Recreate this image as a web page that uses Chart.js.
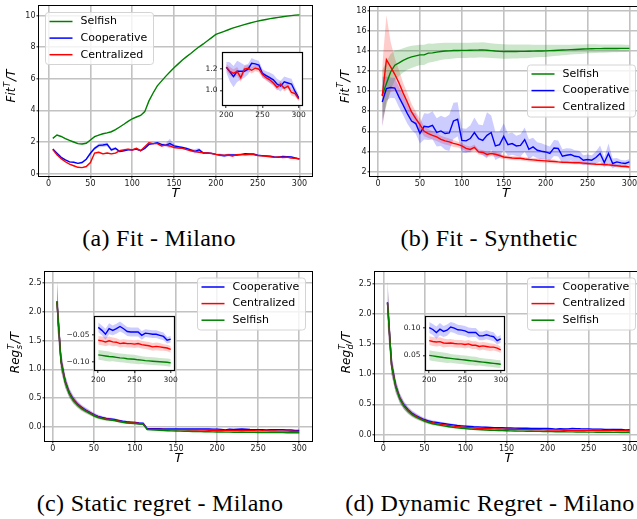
<!DOCTYPE html>
<html>
<head>
<meta charset="utf-8">
<script src="https://cdn.jsdelivr.net/npm/chart.js@4.4.1/dist/chart.umd.min.js"></script>
<style>
  html, body { margin: 0; padding: 0; background: #fff; width: 637px; height: 519px; overflow: hidden; }
  canvas { position: absolute; }
  .cap { position: absolute; font-family: "Liberation Serif", serif; font-size: 24px; letter-spacing: 0.3px; color: #000;
         white-space: nowrap; transform: translate(-50%, -50%); }
</style>
</head>
<body>
<canvas id="fitMilano"></canvas>
<canvas id="fitSynth"></canvas>
<canvas id="regStatic"></canvas>
<canvas id="regDynamic"></canvas>
<canvas id="fitMilanoInset"></canvas>
<canvas id="regStaticInset"></canvas>
<canvas id="regDynamicInset"></canvas>
<div class="cap" style="left:159px;top:238px">(a) Fit - Milano</div>
<div class="cap" style="left:489px;top:238px">(b) Fit - Synthetic</div>
<div class="cap" style="left:160px;top:503px">(c) Static regret - Milano</div>
<div class="cap" style="left:490px;top:503px">(d) Dynamic Regret - Milano</div>
<script>
// horizon T
const T = [5,10,15,20,25,30,35,40,45,50,55,60,65,70,75,80,85,90,95,100,
           105,110,115,120,125,130,135,140,145,150,155,160,165,170,175,180,185,190,195,200,
           205,210,215,220,225,230,235,240,245,250,255,260,265,270,275,280,285,290,295,300];

// (a) Fit - Milano
const fitMilanoSelfish = [2.23,2.44,2.35,2.22,2.10,2.00,1.90,1.87,1.92,2.13, 2.34,2.44,2.52,2.58,2.65,2.78,2.95,3.12,3.30,3.47,
  3.58,3.68,3.92,4.60,5.10,5.55,5.85,6.15,6.42,6.69, 6.94,7.18,7.40,7.60,7.82,8.02,8.20,8.40,8.60,8.80,
  8.90,9.00,9.10,9.20,9.28,9.36,9.44,9.51,9.58,9.64, 9.70,9.75,9.80,9.84,9.88,9.92,9.96,9.99,10.02,10.04];
const fitMilanoSelfishSd = [0.03,0.03,0.03,0.03,0.03,0.03,0.03,0.03,0.03,0.03, 0.03,0.03,0.03,0.03,0.03,0.03,0.03,0.03,0.03,0.03,
  0.03,0.03,0.04,0.04,0.04,0.03,0.03,0.03,0.03,0.03, 0.02,0.02,0.02,0.02,0.02,0.02,0.02,0.02,0.02,0.02,
  0.02,0.02,0.02,0.02,0.02,0.02,0.02,0.02,0.02,0.02, 0.02,0.02,0.02,0.02,0.02,0.02,0.02,0.02,0.02,0.02];
const fitMilanoCoop = [1.56,1.29,1.03,0.87,0.74,0.72,0.65,0.70,0.91,1.29, 1.60,1.79,1.81,1.85,1.50,1.60,1.40,1.45,1.50,1.50,
  1.55,1.45,1.60,1.85,1.90,1.95,1.85,1.80,1.90,1.75, 1.70,1.65,1.60,1.50,1.40,1.50,1.30,1.30,1.28,1.22,
  1.175,1.13,1.18,1.18,1.18,1.20,1.255,1.25,1.24,1.16, 1.14,1.12,1.10,1.06,1.04,1.08,1.07,1.06,0.99,0.93];
const fitMilanoCoopSd = [0.04,0.04,0.04,0.04,0.04,0.04,0.04,0.05,0.06,0.08, 0.10,0.12,0.12,0.12,0.10,0.08,0.06,0.05,0.06,0.05,
  0.05,0.05,0.06,0.06,0.06,0.06,0.07,0.10,0.30,0.10, 0.06,0.06,0.06,0.08,0.15,0.12,0.06,0.05,0.05,0.05,
  0.09,0.10,0.10,0.08,0.06,0.05,0.05,0.04,0.04,0.04, 0.04,0.05,0.05,0.05,0.05,0.05,0.05,0.05,0.04,0.03];
const fitMilanoCentral = [1.52,1.20,0.95,0.75,0.60,0.50,0.40,0.38,0.45,0.70, 1.30,1.35,1.25,1.30,1.25,1.30,1.45,1.50,1.55,1.50,
  1.60,1.45,1.70,1.95,1.90,1.90,1.75,1.80,1.75,1.65, 1.62,1.60,1.52,1.45,1.40,1.35,1.32,1.30,1.27,1.22,
  1.18,1.16,1.18,1.12,1.20,1.21,1.19,1.21,1.20,1.15, 1.12,1.10,1.07,1.03,1.06,1.02,1.04,0.98,0.97,0.92];
const fitMilanoCentralSd = [0.03,0.03,0.03,0.03,0.03,0.03,0.03,0.03,0.04,0.05, 0.06,0.06,0.06,0.05,0.05,0.05,0.06,0.07,0.06,0.05,
  0.05,0.04,0.04,0.04,0.04,0.04,0.04,0.04,0.04,0.04, 0.04,0.04,0.04,0.04,0.04,0.04,0.04,0.04,0.03,0.03,
  0.04,0.04,0.04,0.04,0.03,0.03,0.03,0.03,0.03,0.03, 0.03,0.03,0.03,0.03,0.03,0.03,0.03,0.03,0.03,0.02];

// (b) Fit - Synthetic
const fitSynthSelfish = [9.6,10.75,11.9,12.57,12.8,13.06,13.26,13.4,13.5,13.6, 13.6,13.78,13.8,13.88,13.94,13.98,14.0,14.03,14.04,14.05,
  14.05,14.06,14.07,14.08,14.1,14.06,14.02,13.98,13.95,13.93, 13.93,13.93,13.94,13.95,13.95,13.96,13.97,13.98,13.99,14.0,
  14.02,14.04,14.06,14.08,14.1,14.12,14.14,14.16,14.18,14.2, 14.21,14.22,14.22,14.23,14.23,14.24,14.24,14.25,14.25,14.25];
const fitSynthSelfishSd = [2.5,2.2,1.8,1.5,1.3,1.2,1.15,1.1,1.05,1.0, 1.0,0.95,0.9,0.88,0.85,0.82,0.8,0.78,0.76,0.75,
  0.75,0.75,0.75,0.75,0.75,0.74,0.73,0.72,0.72,0.72, 0.71,0.7,0.69,0.68,0.68,0.66,0.64,0.62,0.61,0.6,
  0.58,0.56,0.54,0.52,0.5,0.49,0.48,0.47,0.46,0.45, 0.44,0.43,0.42,0.41,0.4,0.39,0.38,0.37,0.36,0.35];
const fitSynthCoop = [8.92,10.25,10.35,10.3,9.4,8.6,7.76,7.03,6.77,5.8, 6.5,6.44,6.6,5.9,6.04,5.78,5.84,7.03,7.2,5.1,
  5.05,5.28,5.88,5.28,5.1,5.6,5.88,4.55,4.68,5.5, 4.68,4.78,4.55,4.6,5.18,4.22,4.45,4.12,4.02,3.95,
  3.8,4.35,4.3,3.52,3.62,3.69,3.52,3.46,3.13,3.2, 3.13,3.4,3.8,2.9,3.8,2.8,2.96,2.86,2.8,2.96];
const fitSynthCoopSd = [2.5,1.2,1.0,1.0,1.0,1.0,1.0,0.9,1.0,1.0, 1.3,1.3,1.4,1.4,1.5,1.6,1.8,1.8,1.7,1.2,
  1.2,1.3,1.5,1.4,1.5,2.3,1.7,1.4,1.3,1.3, 1.1,1.1,1.0,1.1,1.2,1.0,0.9,0.8,0.8,0.7,
  0.7,0.8,0.8,0.7,0.7,0.6,0.6,0.6,0.5,0.5, 0.5,0.6,0.8,0.5,1.0,0.5,0.4,0.3,0.3,0.3];
const fitSynthCentral = [9.5,13.13,12.4,11.67,10.8,9.8,8.9,7.93,7.27,6.67, 6.0,5.78,5.6,5.45,5.2,5.05,4.95,4.8,4.7,4.55,
  4.3,4.2,4.4,3.95,3.9,3.7,3.8,3.72,3.6,3.45, 3.4,3.35,3.33,3.32,3.25,3.2,3.16,3.12,3.09,3.06,
  3.03,3.0,2.96,2.93,2.91,2.9,2.88,2.87,2.84,2.8, 2.77,2.73,2.72,2.7,2.67,2.63,2.58,2.53,2.5,2.46];
const fitSynthCentralSd = [3.0,4.4,2.5,1.6,1.3,1.0,0.9,0.8,0.7,0.6, 0.5,0.45,0.4,0.4,0.35,0.35,0.35,0.35,0.3,0.3,
  0.3,0.3,0.3,0.25,0.25,0.25,0.25,0.25,0.25,0.2, 0.2,0.2,0.2,0.2,0.2,0.2,0.2,0.2,0.2,0.2,
  0.2,0.2,0.15,0.15,0.15,0.15,0.15,0.15,0.15,0.15, 0.15,0.15,0.15,0.15,0.15,0.15,0.15,0.15,0.15,0.15];

// (c) Static regret - Milano
const regStaticCoop = [2.18,1.15,0.80,0.60,0.48,0.40,0.34,0.295,0.255,0.215, 0.185,0.165,0.15,0.14,0.13,0.115,0.10,0.09,0.085,0.08,
  0.07,0.065,-0.03,-0.03,-0.031,-0.031,-0.032,-0.032,-0.033,-0.033, -0.034,-0.034,-0.035,-0.035,-0.035,-0.036,-0.036,-0.036,-0.037,-0.0365,
  -0.042,-0.049,-0.039,-0.042,-0.039,-0.035,-0.039,-0.044,-0.045,-0.045, -0.045,-0.051,-0.047,-0.048,-0.049,-0.049,-0.051,-0.053,-0.06,-0.058];
const regStaticCoopSd = [0.38,0.17,0.11,0.08,0.065,0.055,0.048,0.042,0.038,0.034, 0.03,0.028,0.025,0.023,0.021,0.02,0.019,0.018,0.017,0.016,
  0.015,0.015,0.012,0.011,0.011,0.01,0.01,0.01,0.01,0.01, 0.009,0.009,0.009,0.009,0.009,0.009,0.009,0.009,0.009,0.009,
  0.009,0.01,0.01,0.009,0.009,0.009,0.008,0.008,0.008,0.008, 0.008,0.008,0.007,0.007,0.007,0.007,0.007,0.007,0.006,0.006];
const regStaticCentral = [2.18,1.14,0.79,0.59,0.47,0.39,0.33,0.285,0.245,0.205, 0.175,0.155,0.14,0.13,0.12,0.105,0.09,0.08,0.075,0.07,
  0.06,0.055,-0.04,-0.041,-0.042,-0.043,-0.044,-0.045,-0.046,-0.047, -0.048,-0.05,-0.051,-0.052,-0.053,-0.054,-0.055,-0.057,-0.058,-0.06,
  -0.061,-0.063,-0.061,-0.063,-0.0635,-0.066,-0.065,-0.066,-0.066,-0.067, -0.066,-0.068,-0.069,-0.07,-0.072,-0.071,-0.072,-0.073,-0.074,-0.0765];
const regStaticCentralSd = [0.37,0.16,0.1,0.075,0.06,0.05,0.045,0.04,0.036,0.032, 0.029,0.026,0.024,0.022,0.02,0.019,0.018,0.017,0.016,0.015,
  0.014,0.014,0.011,0.01,0.01,0.009,0.009,0.009,0.009,0.009, 0.008,0.008,0.008,0.008,0.008,0.008,0.008,0.008,0.008,0.008,
  0.008,0.008,0.008,0.008,0.007,0.007,0.007,0.007,0.007,0.007, 0.007,0.007,0.007,0.007,0.007,0.007,0.007,0.006,0.006,0.006];
const regStaticSelfish = [2.18,1.13,0.78,0.58,0.46,0.38,0.32,0.275,0.235,0.195, 0.165,0.145,0.13,0.12,0.11,0.095,0.08,0.07,0.065,0.06,
  0.05,0.045,-0.045,-0.05,-0.054,-0.058,-0.061,-0.064,-0.067,-0.069, -0.071,-0.073,-0.075,-0.077,-0.079,-0.08,-0.082,-0.083,-0.085,-0.0865,
  -0.0875,-0.0885,-0.0895,-0.09,-0.091,-0.092,-0.0925,-0.0935,-0.094,-0.0945, -0.0955,-0.096,-0.097,-0.0975,-0.098,-0.0985,-0.099,-0.0995,-0.1,-0.101];
const regStaticSelfishSd = [0.36,0.16,0.1,0.075,0.06,0.05,0.045,0.04,0.036,0.032, 0.029,0.026,0.024,0.022,0.02,0.019,0.018,0.017,0.016,0.015,
  0.014,0.014,0.012,0.011,0.011,0.01,0.01,0.01,0.01,0.01, 0.01,0.01,0.01,0.01,0.01,0.01,0.009,0.009,0.009,0.009,
  0.009,0.009,0.009,0.008,0.008,0.008,0.008,0.008,0.008,0.008, 0.008,0.007,0.007,0.007,0.007,0.007,0.007,0.007,0.007,0.007];

// (d) Dynamic regret - Milano
const regDynCoop = [2.19,1.16,0.81,0.61,0.49,0.41,0.35,0.31,0.275,0.245, 0.225,0.21,0.2,0.19,0.18,0.17,0.16,0.15,0.145,0.14,
  0.135,0.13,0.127,0.124,0.121,0.118,0.116,0.114,0.112,0.11, 0.108,0.107,0.106,0.105,0.104,0.103,0.102,0.101,0.1005,0.1,
  0.0965,0.091,0.097,0.093,0.0953,0.101,0.099,0.096,0.0953,0.094, 0.091,0.091,0.091,0.085,0.085,0.087,0.085,0.0835,0.0765,0.0795];
const regDynCoopSd = [0.38,0.17,0.11,0.08,0.065,0.055,0.048,0.042,0.038,0.034, 0.03,0.028,0.025,0.023,0.021,0.02,0.019,0.018,0.017,0.016,
  0.015,0.015,0.014,0.013,0.012,0.012,0.011,0.011,0.011,0.01, 0.01,0.01,0.01,0.01,0.01,0.01,0.01,0.01,0.01,0.01,
  0.01,0.011,0.011,0.01,0.01,0.009,0.009,0.009,0.009,0.009, 0.009,0.008,0.008,0.008,0.008,0.008,0.008,0.008,0.007,0.007];
const regDynCentral = [2.18,1.15,0.8,0.6,0.48,0.4,0.34,0.3,0.265,0.235, 0.21,0.195,0.18,0.17,0.16,0.15,0.14,0.132,0.125,0.12,
  0.115,0.11,0.106,0.103,0.1,0.097,0.095,0.093,0.091,0.089, 0.087,0.086,0.084,0.083,0.082,0.081,0.08,0.079,0.078,0.0765,
  0.075,0.074,0.0747,0.0723,0.0718,0.0723,0.0712,0.0706,0.0706,0.0694, 0.0706,0.0682,0.0682,0.0659,0.067,0.0659,0.0647,0.0647,0.063,0.06];
const regDynCentralSd = [0.37,0.16,0.1,0.075,0.06,0.05,0.045,0.04,0.036,0.032, 0.029,0.026,0.024,0.022,0.02,0.019,0.018,0.017,0.016,0.015,
  0.014,0.014,0.013,0.012,0.011,0.011,0.01,0.01,0.01,0.009, 0.009,0.009,0.009,0.009,0.009,0.009,0.008,0.008,0.008,0.008,
  0.008,0.008,0.008,0.008,0.007,0.007,0.007,0.007,0.007,0.007, 0.007,0.007,0.007,0.007,0.007,0.007,0.007,0.006,0.006,0.006];
const regDynSelfish = [2.18,1.14,0.79,0.59,0.47,0.39,0.33,0.29,0.255,0.225, 0.2,0.18,0.165,0.152,0.14,0.13,0.12,0.112,0.105,0.098,
  0.092,0.087,0.083,0.079,0.075,0.072,0.069,0.067,0.065,0.063, 0.061,0.06,0.058,0.057,0.056,0.055,0.054,0.053,0.0515,0.05,
  0.049,0.048,0.047,0.046,0.0453,0.0445,0.0437,0.043,0.0422,0.0415, 0.0408,0.04,0.0393,0.0385,0.0378,0.037,0.0363,0.0355,0.0348,0.034];
const regDynSelfishSd = [0.36,0.16,0.1,0.075,0.06,0.05,0.045,0.04,0.036,0.032, 0.029,0.026,0.024,0.022,0.02,0.019,0.018,0.017,0.016,0.015,
  0.014,0.014,0.013,0.012,0.012,0.011,0.011,0.011,0.01,0.01, 0.01,0.01,0.01,0.01,0.01,0.01,0.01,0.01,0.009,0.009,
  0.009,0.009,0.009,0.009,0.009,0.008,0.008,0.008,0.008,0.008, 0.008,0.008,0.008,0.007,0.007,0.007,0.007,0.007,0.007,0.007];

// ticks
const xTicks = [0,50,100,150,200,250,300];
const xTickLabels = ['0','50','100','150','200','250','300'];
const fitMilanoYTicks = [0,2,4,6,8,10];
const fitMilanoYLabels = ['0','2','4','6','8','10'];
const fitSynthYTicks = [2,4,6,8,10,12,14,16,18];
const fitSynthYLabels = ['2','4','6','8','10','12','14','16','18'];
const regYTicks = [0,0.5,1,1.5,2,2.5];
const regYLabels = ['0.0','0.5','1.0','1.5','2.0','2.5'];
const insetXTicks = [200,250,300];
const insetXLabels = ['200','250','300'];
const insetFitYTicks = [1.0,1.2];
const insetFitYLabels = ['1.0','1.2'];
const insetRegSYTicks = [-0.10,-0.05];
const insetRegSYLabels = ['\u22120.10','\u22120.05'];
const insetRegDYTicks = [0.05,0.10];
const insetRegDYLabels = ['0.05','0.10'];

const COLORS = {
  Selfish:     { line: '#008000', band: 'rgba(0,128,0,0.2)' },
  Cooperative: { line: '#0000ff', band: 'rgba(0,0,255,0.2)' },
  Centralized: { line: '#ff0000', band: 'rgba(255,0,0,0.2)' }
};
const INSET_FROM = T.indexOf(200);

function buildSets(list, from) {
  const out = [];
  list.forEach(([name, mean, sd], k) => {
    const xs = T.slice(from), m = mean.slice(from), s = sd.slice(from);
    const col = COLORS[name];
    out.push({ label: name, data: xs.map((x, i) => ({ x, y: m[i] })), borderColor: col.line,
               borderWidth: 1.4, pointRadius: 0, tension: 0, fill: false, order: list.length - k });
    out.push({ label: '_lo', data: xs.map((x, i) => ({ x, y: m[i] - s[i] })), borderWidth: 0,
               borderColor: 'rgba(0,0,0,0)', pointRadius: 0, fill: false, order: 10 });
    out.push({ label: '_hi', data: xs.map((x, i) => ({ x, y: m[i] + s[i] })), borderWidth: 0,
               borderColor: 'rgba(0,0,0,0)', backgroundColor: col.band, pointRadius: 0, fill: '-1', order: 10 });
  });
  return out;
}

function scale(min, max, ticks, labels, o) {
  return {
    type: 'linear', min: min, max: max,
    afterBuildTicks: ax => { ax.ticks = ticks.map(v => ({ value: v })); },
    afterFit: ax => { if (ax.isHorizontal()) ax.height = o.size; else ax.width = o.size; },
    ticks: { autoSkip: false, maxRotation: 0, padding: o.pad, color: '#1a1a1a',
             font: { family: 'DejaVu Sans', size: o.font }, callback: (v, i) => labels[i] },
    grid: { drawOnChartArea: o.grid, color: '#c2c2c2', lineWidth: 1.6, tickLength: o.tick,
            tickColor: '#222', tickWidth: 1 },
    border: { display: false }
  };
}

const framePlugin = {
  id: 'frame',
  beforeDraw(chart, args, o) {
    if (!o.white) return;
    const a = chart.chartArea, c = chart.ctx;
    c.save(); c.fillStyle = '#fff'; c.fillRect(a.left, a.top, a.right - a.left, a.bottom - a.top); c.restore();
  },
  afterDatasetsDraw(chart, args, o) {
    const a = chart.chartArea, c = chart.ctx;
    c.save(); c.strokeStyle = '#000'; c.lineWidth = o.width || 1;
    c.strokeRect(a.left - 0.5, a.top - 0.5, a.right - a.left + 1, a.bottom - a.top + 1);
    c.restore();
  }
};

const legendPlugin = {
  id: 'mplLegend',
  afterDraw(chart, args, o) {
    if (!o.show) return;
    const a = chart.chartArea, c = chart.ctx;
    const w = 108, h = 52;
    const bx = o.left ? a.left + 6.5 : a.right - 6.5 - w;
    const by = a.top + o.dy;
    c.save();
    c.beginPath(); c.roundRect(bx, by, w, h, 3);
    c.fillStyle = 'rgba(255,255,255,0.8)'; c.fill();
    c.strokeStyle = '#d4d4d4'; c.lineWidth = 1; c.stroke();
    const items = chart.data.datasets.filter(d => !d.label.startsWith('_'));
    c.font = '11px "DejaVu Sans"'; c.textBaseline = 'middle';
    items.forEach((d, i) => {
      const y = by + 9 + i * 16.6;
      c.strokeStyle = d.borderColor; c.lineWidth = 1.5;
      c.beginPath(); c.moveTo(bx + 4, y); c.lineTo(bx + 27, y); c.stroke();
      c.fillStyle = '#000'; c.fillText(d.label, bx + 35, y);
    });
    c.restore();
  }
};

function drawRich(c, parts, size) {
  const big = 'italic ' + size + 'px "DejaVu Sans"';
  const small = 'italic ' + (size * 0.7).toFixed(1) + 'px "DejaVu Sans"';
  const widths = parts.map(p => {
    if (p.sup) { c.font = small; return Math.max(c.measureText(p.sup).width, p.sub ? c.measureText(p.sub).width : 0) + 1.5; }
    c.font = big; return c.measureText(p.t).width;
  });
  const total = widths.reduce((s, w) => s + w, 0);
  const base = size * 0.35;
  let x = -total / 2;
  parts.forEach((p, i) => {
    if (p.sup) {
      c.font = small;
      c.fillText(p.sup, x + 0.5, base - size * 0.45);
      if (p.sub) c.fillText(p.sub, x + 0.5, base + size * 0.22);
    } else { c.font = big; c.fillText(p.t, x, base); }
    x += widths[i];
  });
}

const titlePlugin = {
  id: 'axisTitles',
  afterDraw(chart, args, o) {
    const a = chart.chartArea, c = chart.ctx;
    c.save();
    c.fillStyle = '#000';
    c.font = 'italic 13px "DejaVu Sans"'; c.textAlign = 'center'; c.textBaseline = 'middle';
    c.fillText('T', (a.left + a.right) / 2, a.bottom + o.xOff);
    c.translate(a.left + o.yOff, (a.top + a.bottom) / 2 + o.yShift);
    c.rotate(-Math.PI / 2);
    c.textAlign = 'left'; c.textBaseline = 'alphabetic';
    drawRich(c, o.parts, 12);
    c.restore();
  }
};

function place(id, rect, pad) {
  const cv = document.getElementById(id);
  const w = rect.r - rect.l + pad.l + pad.r, h = rect.b - rect.t + pad.t + pad.b;
  cv.width = w; cv.height = h;
  cv.style.left = (rect.l - pad.l) + 'px'; cv.style.top = (rect.t - pad.t) + 'px';
  cv.style.width = w + 'px'; cv.style.height = h + 'px';
  return cv;
}

function makeChart(id, rect, pad, sets, xs, ys, pl) {
  const cv = place(id, rect, pad);
  return new Chart(cv, {
    type: 'line',
    data: { datasets: sets },
    options: {
      responsive: false, animation: false, events: [],
      layout: { padding: { left: 0, top: pad.t, right: pad.r, bottom: 0 } },
      scales: { x: xs, y: ys },
      plugins: Object.assign({ legend: { display: false }, tooltip: { enabled: false },
                               filler: { drawTime: 'beforeDatasetsDraw' } }, pl)
    },
    plugins: [framePlugin, legendPlugin, titlePlugin]
  });
}

const mainPadX = { size: 28, pad: 1, font: 8, tick: 2.5, grid: true };
const insetPadX = { size: 16, pad: 2.5, font: 7.5, tick: 3, grid: false };
const fitTitle = [{ t: 'Fit' }, { sup: 'T' }, { t: '/T' }];
const regSTitle = [{ t: 'Reg' }, { sup: 'T', sub: 's' }, { t: '/T' }];
const regDTitle = [{ t: 'Reg' }, { sup: 'T', sub: 'd' }, { t: '/T' }];
const noTitle = { xOff: -9999, yOff: -9999, yShift: 0, parts: [] };

// (a)
makeChart('fitMilano', { l: 39, t: 6, r: 312, b: 176 }, { l: 39, t: 7, r: 12, b: 28 },
  buildSets([['Selfish', fitMilanoSelfish, fitMilanoSelfishSd], ['Cooperative', fitMilanoCoop, fitMilanoCoopSd],
             ['Centralized', fitMilanoCentral, fitMilanoCentralSd]], 0),
  scale(-11.5, 315, xTicks, xTickLabels, mainPadX),
  scale(-0.15, 10.6, fitMilanoYTicks, fitMilanoYLabels, Object.assign({}, mainPadX, { size: 39 })),
  { frame: { white: false }, mplLegend: { show: true, left: true, dy: 6.5 },
    axisTitles: { xOff: 18, yOff: -28, yShift: -5, parts: fitTitle } });

// (b)
makeChart('fitSynth', { l: 370, t: 7, r: 642, b: 176 }, { l: 40, t: 7, r: 12, b: 28 },
  buildSets([['Selfish', fitSynthSelfish, fitSynthSelfishSd], ['Cooperative', fitSynthCoop, fitSynthCoopSd],
             ['Centralized', fitSynthCentral, fitSynthCentralSd]], 0),
  scale(-9.6, 315, xTicks, xTickLabels, mainPadX),
  scale(1.56, 18.36, fitSynthYTicks, fitSynthYLabels, Object.assign({}, mainPadX, { size: 40 })),
  { frame: { white: false }, mplLegend: { show: true, left: false, dy: 58 },
    axisTitles: { xOff: 18, yOff: -25.5, yShift: -5, parts: fitTitle } });

// (c)
makeChart('regStatic', { l: 45, t: 272, r: 312, b: 441 }, { l: 45, t: 7, r: 12, b: 28 },
  buildSets([['Cooperative', regStaticCoop, regStaticCoopSd], ['Centralized', regStaticCentral, regStaticCentralSd],
             ['Selfish', regStaticSelfish, regStaticSelfishSd]], 0),
  scale(-9.5, 315.5, xTicks, xTickLabels, mainPadX),
  scale(-0.243, 2.69, regYTicks, regYLabels, Object.assign({}, mainPadX, { size: 45 })),
  { frame: { white: false }, mplLegend: { show: true, left: false, dy: 6 },
    axisTitles: { xOff: 18, yOff: -30, yShift: -4, parts: regSTitle } });

// (d)
makeChart('regDynamic', { l: 375, t: 272, r: 642, b: 441 }, { l: 40, t: 7, r: 12, b: 28 },
  buildSets([['Cooperative', regDynCoop, regDynCoopSd], ['Centralized', regDynCentral, regDynCentralSd],
             ['Selfish', regDynSelfish, regDynSelfishSd]], 0),
  scale(-10.2, 315, xTicks, xTickLabels, mainPadX),
  scale(-0.106, 2.69, regYTicks, regYLabels, Object.assign({}, mainPadX, { size: 40 })),
  { frame: { white: false }, mplLegend: { show: true, left: false, dy: 6 },
    axisTitles: { xOff: 18, yOff: -29, yShift: -4, parts: regDTitle } });

// insets
const insetPad = { l: 28, t: 6, r: 10, b: 16 };
makeChart('fitMilanoInset', { l: 223, t: 52, r: 302, b: 105 }, insetPad,
  buildSets([['Cooperative', fitMilanoCoop, fitMilanoCoopSd], ['Centralized', fitMilanoCentral, fitMilanoCentralSd]], INSET_FROM),
  scale(195.5, 304.5, insetXTicks, insetXLabels, insetPadX),
  scale(0.862, 1.353, insetFitYTicks, insetFitYLabels, Object.assign({}, insetPadX, { size: 28 })),
  { frame: { white: true, width: 1.2 }, mplLegend: { show: false }, axisTitles: noTitle });

makeChart('regStaticInset', { l: 95, t: 316, r: 174, b: 370 }, insetPad,
  buildSets([['Cooperative', regStaticCoop, regStaticCoopSd], ['Centralized', regStaticCentral, regStaticCentralSd],
             ['Selfish', regStaticSelfish, regStaticSelfishSd]], INSET_FROM),
  scale(195.5, 304.5, insetXTicks, insetXLabels, insetPadX),
  scale(-0.114, -0.0177, insetRegSYTicks, insetRegSYLabels, Object.assign({}, insetPadX, { size: 28 })),
  { frame: { white: true, width: 1.2 }, mplLegend: { show: false }, axisTitles: noTitle });

makeChart('regDynamicInset', { l: 426, t: 316, r: 504, b: 370 }, insetPad,
  buildSets([['Cooperative', regDynCoop, regDynCoopSd], ['Centralized', regDynCentral, regDynCentralSd],
             ['Selfish', regDynSelfish, regDynSelfishSd]], INSET_FROM),
  scale(195.5, 304.5, insetXTicks, insetXLabels, insetPadX),
  scale(0.0236, 0.119, insetRegDYTicks, insetRegDYLabels, Object.assign({}, insetPadX, { size: 28 })),
  { frame: { white: true, width: 1.2 }, mplLegend: { show: false }, axisTitles: noTitle });
</script>
</body>
</html>
